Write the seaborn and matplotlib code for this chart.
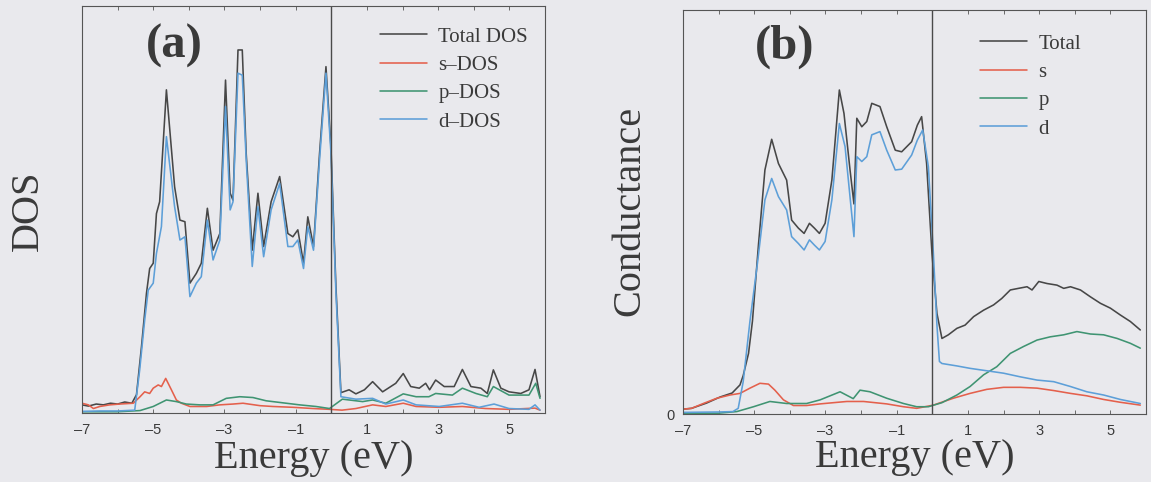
import matplotlib
matplotlib.use("Agg")
import matplotlib.pyplot as plt
import pandas as pd
import seaborn as sns
from matplotlib.lines import Line2D
from matplotlib.ticker import FixedLocator, MultipleLocator

# ---------------- data ----------------
# Panel (a): density of states
a_tot_E = [-7.0, -6.82, -6.6, -6.4, -6.2, -6.0, -5.8, -5.6, -5.47, -5.33, -5.19, -5.1, -5.0, -4.91, -4.82,
           -4.63, -4.4, -4.25, -4.11, -3.97, -3.79, -3.65, -3.48, -3.32, -3.13, -2.97, -2.84, -2.76, -2.62,
           -2.5, -2.39, -2.22, -2.06, -1.9, -1.69, -1.45, -1.22, -1.08, -0.94, -0.78, -0.66, -0.5, -0.33,
           -0.15, -0.01, 0.13, 0.27, 0.5, 0.69, 0.93, 1.16, 1.44, 1.81, 2.02, 2.23, 2.47, 2.65, 2.76, 2.93,
           3.17, 3.45, 3.68, 3.92, 4.2, 4.38, 4.55, 4.76, 4.99, 5.32, 5.55, 5.72, 5.86]
a_tot = [0.2, 0.17, 0.22, 0.2, 0.24, 0.22, 0.27, 0.24, 0.45, 1.63, 2.94, 3.55, 3.68, 4.9, 5.19,
         7.94, 5.56, 4.74, 4.7, 3.19, 3.43, 3.68, 5.03, 4.0, 4.41, 8.18, 5.4, 5.23, 8.92,
         8.92, 6.38, 4.0, 5.4, 4.09, 5.19, 5.81, 4.41, 4.33, 4.5, 3.68, 4.82, 4.09, 6.38,
         8.51, 6.54, 3.1, 0.5, 0.57, 0.47, 0.57, 0.77, 0.52, 0.73, 0.97, 0.65, 0.61, 0.73, 0.57, 0.81,
         0.65, 0.65, 1.07, 0.65, 0.61, 0.48, 1.06, 0.61, 0.52, 0.48, 0.57, 1.07, 0.4]

a_s_E = [-7.0, -6.82, -6.68, -6.5, -6.22, -5.94, -5.56, -5.37, -5.24, -5.1, -5.0, -4.86, -4.77, -4.65,
         -4.49, -4.35, -4.21, -3.97, -3.5, -3.13, -2.76, -2.48, -2.0, -1.64, -1.08, -0.52, -0.05, 0.3,
         0.69, 1.16, 1.53, 2.02, 2.38, 3.03, 3.68, 4.33, 4.99, 5.72, 5.86]
a_s = [0.24, 0.2, 0.11, 0.16, 0.2, 0.22, 0.24, 0.4, 0.52, 0.48, 0.61, 0.69, 0.65, 0.85,
       0.57, 0.32, 0.24, 0.16, 0.16, 0.2, 0.22, 0.24, 0.18, 0.16, 0.14, 0.11, 0.09, 0.07,
       0.11, 0.2, 0.16, 0.24, 0.16, 0.14, 0.16, 0.11, 0.09, 0.12, 0.07]

a_p_E = [-7.0, -6.0, -5.37, -5.0, -4.63, -4.35, -4.07, -3.69, -3.32, -2.95, -2.57, -2.2, -1.83, -1.36,
         -0.89, -0.43, -0.05, 0.31, 0.88, 1.16, 1.53, 2.02, 2.38, 2.74, 2.93, 3.4, 3.68, 4.06, 4.38,
         4.55, 4.99, 5.55, 5.74, 5.86]
a_p = [0.03, 0.03, 0.06, 0.16, 0.32, 0.28, 0.22, 0.2, 0.2, 0.36, 0.4, 0.38, 0.3, 0.25,
       0.2, 0.16, 0.11, 0.34, 0.28, 0.32, 0.24, 0.47, 0.4, 0.4, 0.48, 0.44, 0.61, 0.48, 0.4,
       0.65, 0.44, 0.44, 0.73, 0.36]

a_d_E = [-7.0, -6.5, -6.0, -5.52, -5.38, -5.24, -5.14, -5.0, -4.91, -4.77, -4.63, -4.4, -4.25, -4.11,
         -3.97, -3.79, -3.65, -3.48, -3.32, -3.13, -2.97, -2.84, -2.76, -2.62, -2.5, -2.39, -2.22, -2.06,
         -1.9, -1.69, -1.45, -1.22, -1.08, -0.94, -0.78, -0.66, -0.5, -0.33, -0.15, -0.01, 0.13, 0.27,
         0.69, 1.16, 1.53, 2.02, 2.38, 3.03, 3.68, 4.15, 4.57, 4.99, 5.55, 5.72, 5.86]
a_d = [0.04, 0.05, 0.05, 0.07, 1.06, 2.28, 3.02, 3.19, 3.92, 4.58, 6.79, 5.07, 4.25, 4.33,
       2.86, 3.19, 3.35, 4.74, 3.76, 4.25, 7.53, 4.99, 5.19, 8.35, 8.3, 6.22, 3.6, 5.07,
       3.84, 4.99, 5.64, 4.09, 4.09, 4.25, 3.55, 4.58, 4.0, 6.22, 8.35, 6.38, 2.94, 0.4,
       0.34, 0.36, 0.22, 0.32, 0.2, 0.16, 0.24, 0.14, 0.22, 0.11, 0.09, 0.2, 0.07]

# Panel (b): conductance
b_tot_E = [-7.0, -6.76, -6.34, -5.96, -5.62, -5.4, -5.31, -5.16, -5.05, -4.88, -4.7, -4.51, -4.32, -4.09,
           -3.95, -3.76, -3.6, -3.45, -3.31, -3.17, -3.01, -2.82, -2.61, -2.48, -2.31, -2.2, -2.12, -1.98,
           -1.84, -1.7, -1.47, -1.28, -1.04, -0.86, -0.58, -0.42, -0.3, -0.16, -0.01, 0.13, 0.27, 0.45,
           0.69, 0.92, 1.16, 1.44, 1.72, 1.95, 2.19, 2.42, 2.66, 2.8, 2.99, 3.22, 3.5, 3.69, 3.88, 4.16,
           4.44, 4.72, 5.0, 5.28, 5.56, 5.84]
b_tot = [0.12, 0.14, 0.27, 0.42, 0.52, 0.72, 0.95, 1.5, 2.3, 4.2, 6.04, 6.8, 6.2, 5.79,
         4.8, 4.6, 4.47, 4.72, 4.6, 4.47, 4.72, 5.79, 8.02, 7.44, 6.04, 5.2, 7.32, 7.11,
         7.24, 7.69, 7.61, 7.11, 6.53, 6.49, 6.74, 7.15, 7.36, 6.2, 3.98, 2.49, 1.87, 1.96,
         2.12, 2.2, 2.41, 2.57, 2.7, 2.86, 3.07, 3.11, 3.15, 3.07, 3.28, 3.23, 3.19, 3.11, 3.15, 3.07,
         2.9, 2.74, 2.62, 2.45, 2.29, 2.08]

b_s_E = [-7.0, -6.76, -6.43, -6.05, -5.68, -5.4, -5.12, -4.84, -4.6, -4.42, -4.18, -3.9, -3.53, -3.15,
         -2.78, -2.4, -1.93, -1.28, -0.81, -0.44, 0.03, 0.59, 1.06, 1.53, 2.0, 2.47, 2.94, 3.41, 3.88,
         4.34, 4.81, 5.28, 5.84]
b_s = [0.12, 0.14, 0.26, 0.39, 0.47, 0.51, 0.64, 0.76, 0.74, 0.59, 0.35, 0.21, 0.21, 0.25,
       0.28, 0.31, 0.31, 0.25, 0.18, 0.14, 0.22, 0.39, 0.51, 0.61, 0.66, 0.66, 0.64, 0.58, 0.51,
       0.45, 0.36, 0.29, 0.22]

b_p_E = [-7.0, -6.0, -5.49, -5.02, -4.56, -4.09, -3.53, -3.15, -2.59, -2.22, -2.03, -1.75, -1.28, -0.81,
         -0.44, -0.11, 0.27, 0.69, 1.06, 1.44, 1.81, 2.19, 2.56, 2.94, 3.31, 3.69, 4.06, 4.44, 4.81,
         5.19, 5.56, 5.84]
b_p = [0.02, 0.02, 0.06, 0.18, 0.31, 0.26, 0.26, 0.35, 0.55, 0.38, 0.59, 0.55, 0.39, 0.26,
       0.18, 0.18, 0.28, 0.47, 0.68, 0.97, 1.17, 1.5, 1.67, 1.83, 1.91, 1.96, 2.04, 1.98, 1.96,
       1.87, 1.75, 1.63]

b_d_E = [-7.0, -6.0, -5.6, -5.45, -5.31, -5.12, -4.9, -4.7, -4.51, -4.32, -4.09, -3.95, -3.76, -3.6,
         -3.45, -3.31, -3.17, -3.01, -2.82, -2.61, -2.45, -2.2, -2.12, -1.98, -1.84, -1.7, -1.47, -1.28,
         -1.04, -0.86, -0.58, -0.42, -0.27, -0.11, 0.03, 0.13, 0.2, 0.27, 0.69, 1.06, 1.53, 2.0, 2.47,
         2.94, 3.41, 3.88, 4.34, 4.81, 5.28, 5.84]
b_d = [0.04, 0.05, 0.06, 0.14, 0.8, 2.3, 3.8, 5.3, 5.83, 5.38, 5.05, 4.39, 4.22, 4.06,
       4.31, 4.18, 4.06, 4.27, 5.3, 7.19, 6.62, 4.39, 6.37, 6.25, 6.37, 6.91, 6.99, 6.53,
       6.04, 6.06, 6.41, 6.78, 7.03, 6.12, 3.98, 2.2, 1.3, 1.25, 1.19, 1.13, 1.07, 1.01, 0.92,
       0.84, 0.8, 0.68, 0.55, 0.47, 0.36, 0.26]

a_labels = ["Total DOS", "s\u2013DOS", "p\u2013DOS", "d\u2013DOS"]
b_labels = ["Total", "s", "p", "d"]
x_ticks = [-7, -5, -3, -1, 1, 3, 5]
x_tick_labels = ["\u20137", "\u20135", "\u20133", "\u20131", "1", "3", "5"]

# ---------------- style ----------------
BG = "#e9e9ed"
INK = "#3a3a3a"
COLORS = ["#474747", "#e4604c", "#3f9472", "#5d9fd8"]

sns.set_theme(style="white")
plt.rcParams["font.family"] = ["Liberation Serif", "DejaVu Serif"]
plt.rcParams["axes.unicode_minus"] = False


def long_frame(series, labels):
    frames = []
    for (E, v), lab in zip(series, labels):
        assert len(E) == len(v), lab
        frames.append(pd.DataFrame({"Energy": E, "val": v, "series": lab}))
    return pd.concat(frames, ignore_index=True)


df_a = long_frame([(a_tot_E, a_tot), (a_s_E, a_s), (a_p_E, a_p), (a_d_E, a_d)], a_labels)
df_b = long_frame([(b_tot_E, b_tot), (b_s_E, b_s), (b_p_E, b_p), (b_d_E, b_d)], b_labels)

W, H = 1151, 482
fig = plt.figure(figsize=(W / 100, H / 100), dpi=100, facecolor=BG)
ax_a = fig.add_axes([82 / W, (H - 413) / H, 463 / W, 407 / H])
ax_b = fig.add_axes([683 / W, (H - 414) / H, 463 / W, 404 / H])


def style_axes(ax, df, labels, leg_anchor):
    ax.set_facecolor(BG)
    sns.lineplot(data=df, x="Energy", y="val", hue="series", hue_order=labels,
                 palette=dict(zip(labels, COLORS)), estimator=None, sort=False,
                 linewidth=1.15, legend=False, ax=ax)
    ax.axvline(0, color="#4a4a4a", lw=1.0)
    ax.set_xlim(-7, 6)
    ax.set_ylim(0, 10)
    ax.set_xlabel("")
    ax.set_ylabel("")
    ax.xaxis.set_major_locator(FixedLocator(x_ticks))
    ax.set_xticklabels(x_tick_labels)
    ax.xaxis.set_minor_locator(MultipleLocator(1))
    ax.tick_params(axis="x", which="both", direction="in", top=True, bottom=True,
                   length=3, width=0.6, color="#555555", labelcolor=INK, labelsize=10.5, pad=7)
    for lbl in ax.get_xticklabels():
        lbl.set_fontfamily(["Liberation Sans", "DejaVu Sans"])
    for sp in ax.spines.values():
        sp.set_color("#555555")
        sp.set_linewidth(0.8)
    handles = [Line2D([], [], color=c, lw=1.15) for c in COLORS]
    ax.legend(handles, labels, loc="upper left", bbox_to_anchor=leg_anchor, frameon=False,
              prop={"family": "Liberation Serif", "size": 15}, handlelength=2.25,
              handletextpad=0.55, labelspacing=0.42, borderpad=0, borderaxespad=0,
              labelcolor=INK)


style_axes(ax_a, df_a, a_labels, ((380 - 82) / 463, (413 - 27) / 407))
style_axes(ax_b, df_b, b_labels, ((980 - 683) / 463, (414 - 34) / 404))

ax_a.set_yticks([])
ax_b.set_yticks([0])
ax_b.set_yticklabels(["0"])
ax_b.tick_params(axis="y", length=0, pad=6, labelsize=10.5, labelcolor=INK)
for lbl in ax_b.get_yticklabels():
    lbl.set_fontfamily(["Liberation Sans", "DejaVu Sans"])

# panel letters
fig.text(174 / W, 1 - 46 / H, "(a)", fontsize=35, fontweight="bold", color=INK, ha="center", va="center")
fig.text(785 / W, 1 - 47 / H, "(b)", fontsize=35, fontweight="bold", color=INK, ha="center", va="center")

# axis titles
fig.text(28 / W, 1 - 211 / H, "DOS", fontsize=29, rotation=90, color=INK, ha="center", va="center")
fig.text(630 / W, 1 - 211 / H, "Conductance", fontsize=29, rotation=90, color=INK, ha="center", va="center")
fig.text(314 / W, 1 - 468 / H, "Energy (eV)", fontsize=29, color=INK, ha="center", va="baseline")
fig.text(915 / W, 1 - 467 / H, "Energy (eV)", fontsize=29, color=INK, ha="center", va="baseline")

fig.savefig("out.png", dpi=100, facecolor=BG)
